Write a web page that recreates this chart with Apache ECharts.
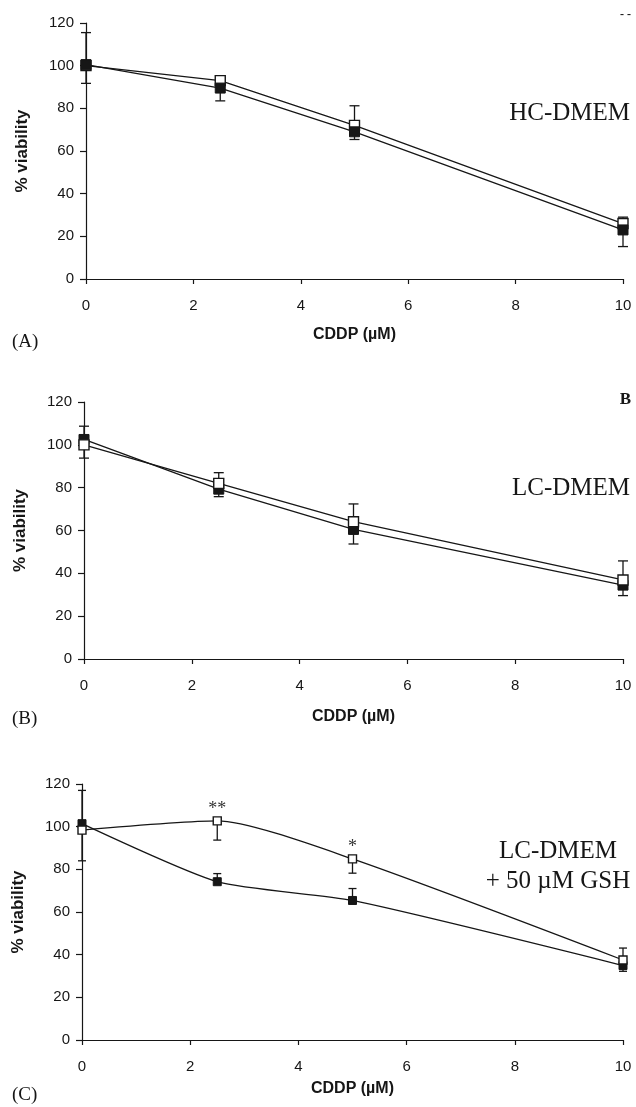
<!DOCTYPE html>
<html>
<head>
<meta charset="utf-8">
<script src="https://cdn.jsdelivr.net/npm/echarts@6/dist/echarts.min.js"></script>
<style>
html,body{margin:0;padding:0;background:#fff;}
#chart{width:636px;height:1107px;}
</style>
</head>
<body>
<div id="chart"></div>
<script>
// ---- data ----
const cddp = [0, 2.5, 5, 10];
const xTicks = [0, 2, 4, 6, 8, 10];
const yTicks = [0, 20, 40, 60, 80, 100, 120];

// Panel A: HC-DMEM
const hcOpen = [100, 93, 72, 26];
const hcOpenErrUp = [15.5, 1.5, 9.2, 3];
const hcOpenErrDown = [0, 0, 0, 0];
const hcFilled = [100.5, 89.5, 69, 23];
const hcFilledErrUp = [0, 0, 0, 0];
const hcFilledErrDown = [8.8, 6, 3.6, 7.8];

// Panel B: LC-DMEM
const lcOpen = [100, 82, 64.1, 36.9];
const lcOpenErrUp = [8.7, 5, 8.3, 8.9];
const lcOpenErrDown = [0, 0, 0, 0];
const lcFilled = [102.5, 79.3, 60.5, 34.5];
const lcFilledErrUp = [0, 0, 0, 0];
const lcFilledErrDown = [8.7, 3.5, 6.8, 4.9];

// Panel C: LC-DMEM + 50 uM GSH
const gshOpen = [98.4, 102.7, 84.9, 37.5];
const gshOpenErrUp = [18.6, 0, 0, 5.6];
const gshOpenErrDown = [0, 9, 6.7, 0];
const gshFilled = [101.4, 74.2, 65.4, 34.9];
const gshFilledErrUp = [0, 3.8, 5.6, 0];
const gshFilledErrDown = [17.4, 0, 0, 2.7];
const gshSignif = ['', '**', '*', ''];

const panelLetters = ['(A)', '(B)', '(C)'];
const mediumLabels = ['HC-DMEM', 'LC-DMEM', 'LC-DMEM', '+ 50 \u00b5M GSH'];
const xTitle = 'CDDP (\u00b5M)';
const yTitle = '% viability';

// ---- build ----
const sans = 'Liberation Sans, Arial, sans-serif';
const serif = 'Liberation Serif, Times New Roman, serif';
const ink = '#161616';

const panels = [
  {open: hcOpen, openUp: hcOpenErrUp, openDown: hcOpenErrDown, filled: hcFilled, fUp: hcFilledErrUp, fDown: hcFilledErrDown,
   grid: {left: 86, right: 13, top: 23, height: 256}, nameGap: 48, smooth: false, sym: 10, cap: 10, openOnTop: false},
  {open: lcOpen, openUp: lcOpenErrUp, openDown: lcOpenErrDown, filled: lcFilled, fUp: lcFilledErrUp, fDown: lcFilledErrDown,
   grid: {left: 84, right: 13, top: 402, height: 257}, nameGap: 50, smooth: false, sym: 10, cap: 10, openOnTop: true},
  {open: gshOpen, openUp: gshOpenErrUp, openDown: gshOpenErrDown, filled: gshFilled, fUp: gshFilledErrUp, fDown: gshFilledErrDown,
   grid: {left: 82, right: 13, top: 784, height: 256}, nameGap: 41, smooth: 0.22, sym: 8, cap: 8, openOnTop: true, signif: gshSignif}
];

function errItems(vals, up, down) {
  const out = [];
  vals.forEach((v, i) => {
    if (up[i] > 0) out.push([cddp[i], v, v + up[i]]);
    if (down[i] > 0) out.push([cddp[i], v, v - down[i]]);
  });
  return out;
}

function errRender(capW) {
  return function (params, api) {
    const x = api.value(0), y0 = api.value(1), y1 = api.value(2);
    const p0 = api.coord([x, y0]);
    const p1 = api.coord([x, y1]);
    const st = {stroke: ink, lineWidth: 1.3};
    return {
      type: 'group',
      children: [
        {type: 'line', shape: {x1: p0[0], y1: p0[1], x2: p1[0], y2: p1[1]}, style: st},
        {type: 'line', shape: {x1: p1[0] - capW / 2, y1: p1[1], x2: p1[0] + capW / 2, y2: p1[1]}, style: st}
      ]
    };
  };
}

const grids = [], xAxes = [], yAxes = [], series = [];
panels.forEach((p, i) => {
  grids.push(p.grid);
  xAxes.push({
    type: 'value', gridIndex: i, min: 0, max: 10, interval: 2,
    name: xTitle, nameLocation: 'middle', nameGap: p.nameGap,
    nameTextStyle: {fontFamily: sans, fontWeight: 'bold', fontSize: 16, color: ink},
    axisLine: {show: true, onZero: false, lineStyle: {color: ink, width: 1.2}},
    axisTick: {show: true, inside: false, length: 5, lineStyle: {color: ink, width: 1.2}},
    axisLabel: {margin: 19, fontFamily: sans, fontSize: 15, color: ink,
      formatter: v => xTicks.includes(v) ? String(v) : ''},
    splitLine: {show: false}
  });
  yAxes.push({
    type: 'value', gridIndex: i, min: 0, max: 120, interval: 20,
    name: yTitle, nameLocation: 'middle', nameGap: 55, nameRotate: 90,
    nameTextStyle: {fontFamily: sans, fontWeight: 'bold', fontSize: 17, color: ink},
    axisLine: {show: true, lineStyle: {color: ink, width: 1.2}},
    axisTick: {show: true, inside: false, length: 6, lineStyle: {color: ink, width: 1.2}},
    axisLabel: {margin: 12, fontFamily: sans, fontSize: 15, color: ink,
      formatter: v => yTicks.includes(v) ? String(v) : ''},
    splitLine: {show: false}
  });
  const zOpen = p.openOnTop ? 5 : 4;
  const zFilled = p.openOnTop ? 4 : 5;
  series.push({
    type: 'custom', xAxisIndex: i, yAxisIndex: i, z: 2, silent: true,
    renderItem: errRender(p.cap), encode: {x: 0, y: [1, 2]},
    data: errItems(p.open, p.openUp, p.openDown).concat(errItems(p.filled, p.fUp, p.fDown))
  });
  series.push({
    type: 'line', xAxisIndex: i, yAxisIndex: i, z: zFilled, smooth: p.smooth,
    data: cddp.map((x, k) => [x, p.filled[k]]),
    symbol: 'rect', symbolSize: p.sym, showAllSymbol: true,
    lineStyle: {color: ink, width: 1.3},
    itemStyle: {color: ink, borderColor: ink, borderWidth: 1},
    animation: false
  });
  series.push({
    type: 'line', xAxisIndex: i, yAxisIndex: i, z: zOpen, smooth: p.smooth,
    data: cddp.map((x, k) => [x, p.open[k]]),
    symbol: 'rect', symbolSize: p.sym, showAllSymbol: true,
    lineStyle: {color: ink, width: 1.3},
    itemStyle: {color: '#fff', borderColor: ink, borderWidth: 1.4},
    label: p.signif ? {
      show: true, position: 'top', distance: 2, offset: [0, 4],
      fontFamily: serif, fontSize: 18, color: '#333',
      formatter: prm => p.signif[prm.dataIndex]
    } : {show: false},
    animation: false
  });
});

function txt(str, x, y, font, align, extra) {
  return Object.assign({type: 'text', x: x, y: y,
    style: {text: str, font: font, fill: ink, align: align, verticalAlign: 'middle'}}, extra || {});
}

const graphic = [
  txt(panelLetters[0], 12, 342, '19px ' + serif, 'left'),
  txt(panelLetters[1], 12, 719, '19px ' + serif, 'left'),
  txt(panelLetters[2], 12, 1095, '19px ' + serif, 'left'),
  txt(mediumLabels[0], 630, 113, '25px ' + serif, 'right'),
  txt(mediumLabels[1], 630, 488, '25px ' + serif, 'right'),
  txt(mediumLabels[2], 558, 851, '25px ' + serif, 'center'),
  txt(mediumLabels[3], 558, 881, '25px ' + serif, 'center'),
  txt('B', 631, 400, 'bold 17px ' + serif, 'right'),
  txt('- -', 631, 15, 'bold 12px ' + serif, 'right')
];

const chart = echarts.init(document.getElementById('chart'), null, {renderer: 'canvas'});
chart.setOption({
  backgroundColor: '#fff',
  animation: false,
  grid: grids, xAxis: xAxes, yAxis: yAxes, series: series, graphic: graphic
});
</script>
</body>
</html>
